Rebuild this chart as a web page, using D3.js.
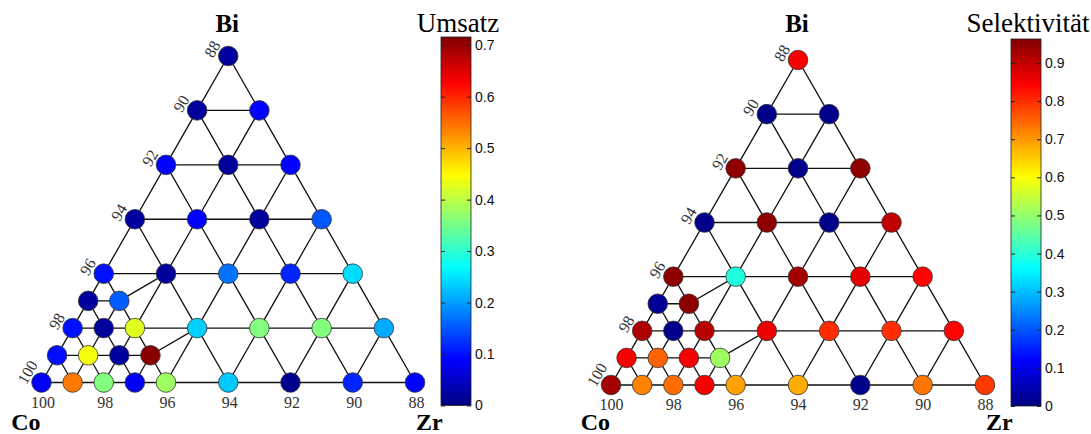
<!DOCTYPE html>
<html>
<head>
<meta charset="utf-8">
<title>Umsatz / Selektivität</title>
<script src="https://d3js.org/d3.v7.min.js"></script>
<style>
  body { margin: 0; background: #fff; }
  svg { display: block; }
</style>
</head>
<body>
<div id="chart"></div>
<script>

// composition of each spot (Bi and Zr in %, Co = rest)
var biPct = [0, 0, 0, 0, 0, 0, 0, 0, 0,
             1, 1, 1, 1,
             2, 2, 2, 2, 2, 2, 2,
             3, 3,
             4, 4, 4, 4, 4,
             6, 6, 6, 6,
             8, 8, 8,
             10, 10,
             12];
var zrPct = [0, 1, 2, 3, 4, 6, 8, 10, 12,
             0, 1, 2, 3,
             0, 1, 2, 4, 6, 8, 10,
             0, 1,
             0, 2, 4, 6, 8,
             0, 2, 4, 6,
             0, 2, 4,
             0, 2,
             0];

// measured values
var umsatz = [0.085, 0.54, 0.36, 0.08, 0.38, 0.23, 0.01, 0.115, 0.09,
              0.10, 0.44, 0.02, 0.71,
              0.10, 0.02, 0.425, 0.235, 0.36, 0.36, 0.21,
              0.02, 0.155,
              0.10, 0.02, 0.17, 0.115, 0.245,
              0.02, 0.09, 0.02, 0.15,
              0.09, 0.02, 0.09,
              0.02, 0.09,
              0.02];
var selektivitaet = [0.93, 0.72, 0.74, 0.85, 0.69, 0.68, 0.01, 0.73, 0.79,
                     0.85, 0.75, 0.85, 0.51,
                     0.92, 0.01, 0.91, 0.86, 0.80, 0.80, 0.84,
                     0.02, 0.95,
                     0.95, 0.39, 0.93, 0.87, 0.84,
                     0.01, 0.95, 0.01, 0.90,
                     0.95, 0.01, 0.95,
                     0.01, 0.01,
                     0.85];

// axis tick labels (Co %)
var coTicks = [100, 98, 96, 94, 92, 90, 88];
var umsatzTicks = [0, 0.1, 0.2, 0.3, 0.4, 0.5, 0.6, 0.7];
var selTicks = [0, 0.1, 0.2, 0.3, 0.4, 0.5, 0.6, 0.7, 0.8, 0.9];

var W = 1091, H = 434;
var serif = "'Liberation Serif', 'Times New Roman', serif";
var sans = "'Liberation Sans', Arial, sans-serif";

// jet colormap (like matlab)
var jet = d3.scaleLinear()
  .domain([0, 0.125, 0.375, 0.625, 0.875, 1])
  .range(["#000080", "#0000ff", "#00ffff", "#ffff00", "#ff0000", "#800000"])
  .clamp(true);

var svg = d3.select("#chart").append("svg")
  .attr("width", W)
  .attr("height", H);

var defs = svg.append("defs");

var points = biPct.map(function(b, i) { return {b: b, z: zrPct[i]}; });

function drawPanel(cfg, values, cmax, ticks, title, id) {
  var g = svg.append("g");

  // ternary coords: x from Zr + Bi/2, y from Bi
  var xs = d3.scaleLinear().domain([0, 12]).range([cfg.x0, cfg.x1]);
  var ys = d3.scaleLinear().domain([0, 12]).range([cfg.yBase, cfg.yTop]);
  var px = function(d) { return xs(d.z + d.b / 2); };
  var py = function(d) { return ys(d.b); };

  // triangulation lines between spots
  var delaunay = d3.Delaunay.from(points, px, py);
  g.append("path")
    .attr("d", delaunay.render())
    .attr("fill", "none")
    .attr("stroke", "#111")
    .attr("stroke-width", 1.3);

  // spots
  g.selectAll("circle")
    .data(points)
    .enter().append("circle")
      .attr("cx", px)
      .attr("cy", py)
      .attr("r", 9.8)
      .attr("fill", function(d, i) { return jet(values[i] / cmax); })
      .attr("stroke", "#333")
      .attr("stroke-width", 0.8);

  // bottom labels (Co along Co-Zr edge)
  g.selectAll(".tb")
    .data(coTicks)
    .enter().append("text")
      .attr("x", function(c) { return xs(100 - c) + cfg.tbdx; })
      .attr("y", cfg.yBase + 25)
      .attr("text-anchor", "middle")
      .style("font-family", serif)
      .style("font-size", "16px")
      .style("fill", "#333")
      .text(function(c) { return c; });

  // left labels (Co along Co-Bi edge), rotated
  g.selectAll(".tl")
    .data(coTicks)
    .enter().append("text")
      .attr("transform", function(c) {
        var b = 100 - c;
        return "translate(" + (xs(b / 2) - 20) + "," + ys(b) + ") rotate(-60)";
      })
      .attr("dominant-baseline", "central")
      .style("font-family", serif)
      .style("font-size", "16px")
      .style("fill", "#333")
      .text(function(c) { return c; });

  // corner labels
  g.append("text")
    .attr("x", xs(6) - 1).attr("y", 32)
    .attr("text-anchor", "middle")
    .style("font-family", serif).style("font-size", "25px").style("font-weight", "bold")
    .text("Bi");
  g.append("text")
    .attr("x", cfg.x0 - 1).attr("y", 430)
    .attr("text-anchor", "end")
    .style("font-family", serif).style("font-size", "24px").style("font-weight", "bold")
    .text("Co");
  g.append("text")
    .attr("x", cfg.x1 + 1).attr("y", 430)
    .style("font-family", serif).style("font-size", "24px").style("font-weight", "bold")
    .text("Zr");

  // colorbar
  var grad = defs.append("linearGradient")
    .attr("id", id)
    .attr("x1", 0).attr("y1", 1).attr("x2", 0).attr("y2", 0);
  jet.domain().forEach(function(t) {
    grad.append("stop").attr("offset", t).attr("stop-color", jet(t));
  });

  var cs = d3.scaleLinear().domain([0, cmax]).range([cfg.cbBottom, cfg.cbTop]);
  g.append("rect")
    .attr("x", cfg.cbX).attr("y", cfg.cbTop)
    .attr("width", 30).attr("height", cfg.cbBottom - cfg.cbTop)
    .attr("fill", "url(#" + id + ")")
    .attr("stroke", "#222")
    .attr("stroke-width", 0.8);

  var axR = g.append("g")
    .attr("transform", "translate(" + (cfg.cbX + 30) + ",0)")
    .call(d3.axisRight(cs).tickValues(ticks).tickSize(-4).tickPadding(4)
      .tickFormat(function(v) { return v === 0 ? "0" : d3.format(".1f")(v); }));
  axR.select(".domain").remove();
  axR.selectAll("text").style("font-family", sans).style("font-size", "14px").style("fill", "#111");
  axR.selectAll("line").attr("stroke", "#222");

  var axL = g.append("g")
    .attr("transform", "translate(" + cfg.cbX + ",0)")
    .call(d3.axisLeft(cs).tickValues(ticks).tickSize(-4).tickFormat(""));
  axL.select(".domain").remove();
  axL.selectAll("line").attr("stroke", "#222");

  g.append("text")
    .attr("x", cfg.cbX + 17).attr("y", 32)
    .attr("text-anchor", "middle")
    .style("font-family", serif).style("font-size", "27px")
    .text(title);
}

drawPanel({x0: 41.5, x1: 415, yBase: 382.5, yTop: 56, tbdx: 1.5,
           cbX: 441, cbTop: 37, cbBottom: 405.5},
          umsatz, 0.716, umsatzTicks, "Umsatz", "gradU");

drawPanel({x0: 611, x1: 985, yBase: 385, yTop: 60, tbdx: 0.5,
           cbX: 1011, cbTop: 39, cbBottom: 406},
          selektivitaet, 0.963, selTicks, "Selektivität", "gradS");

</script>
</body>
</html>
